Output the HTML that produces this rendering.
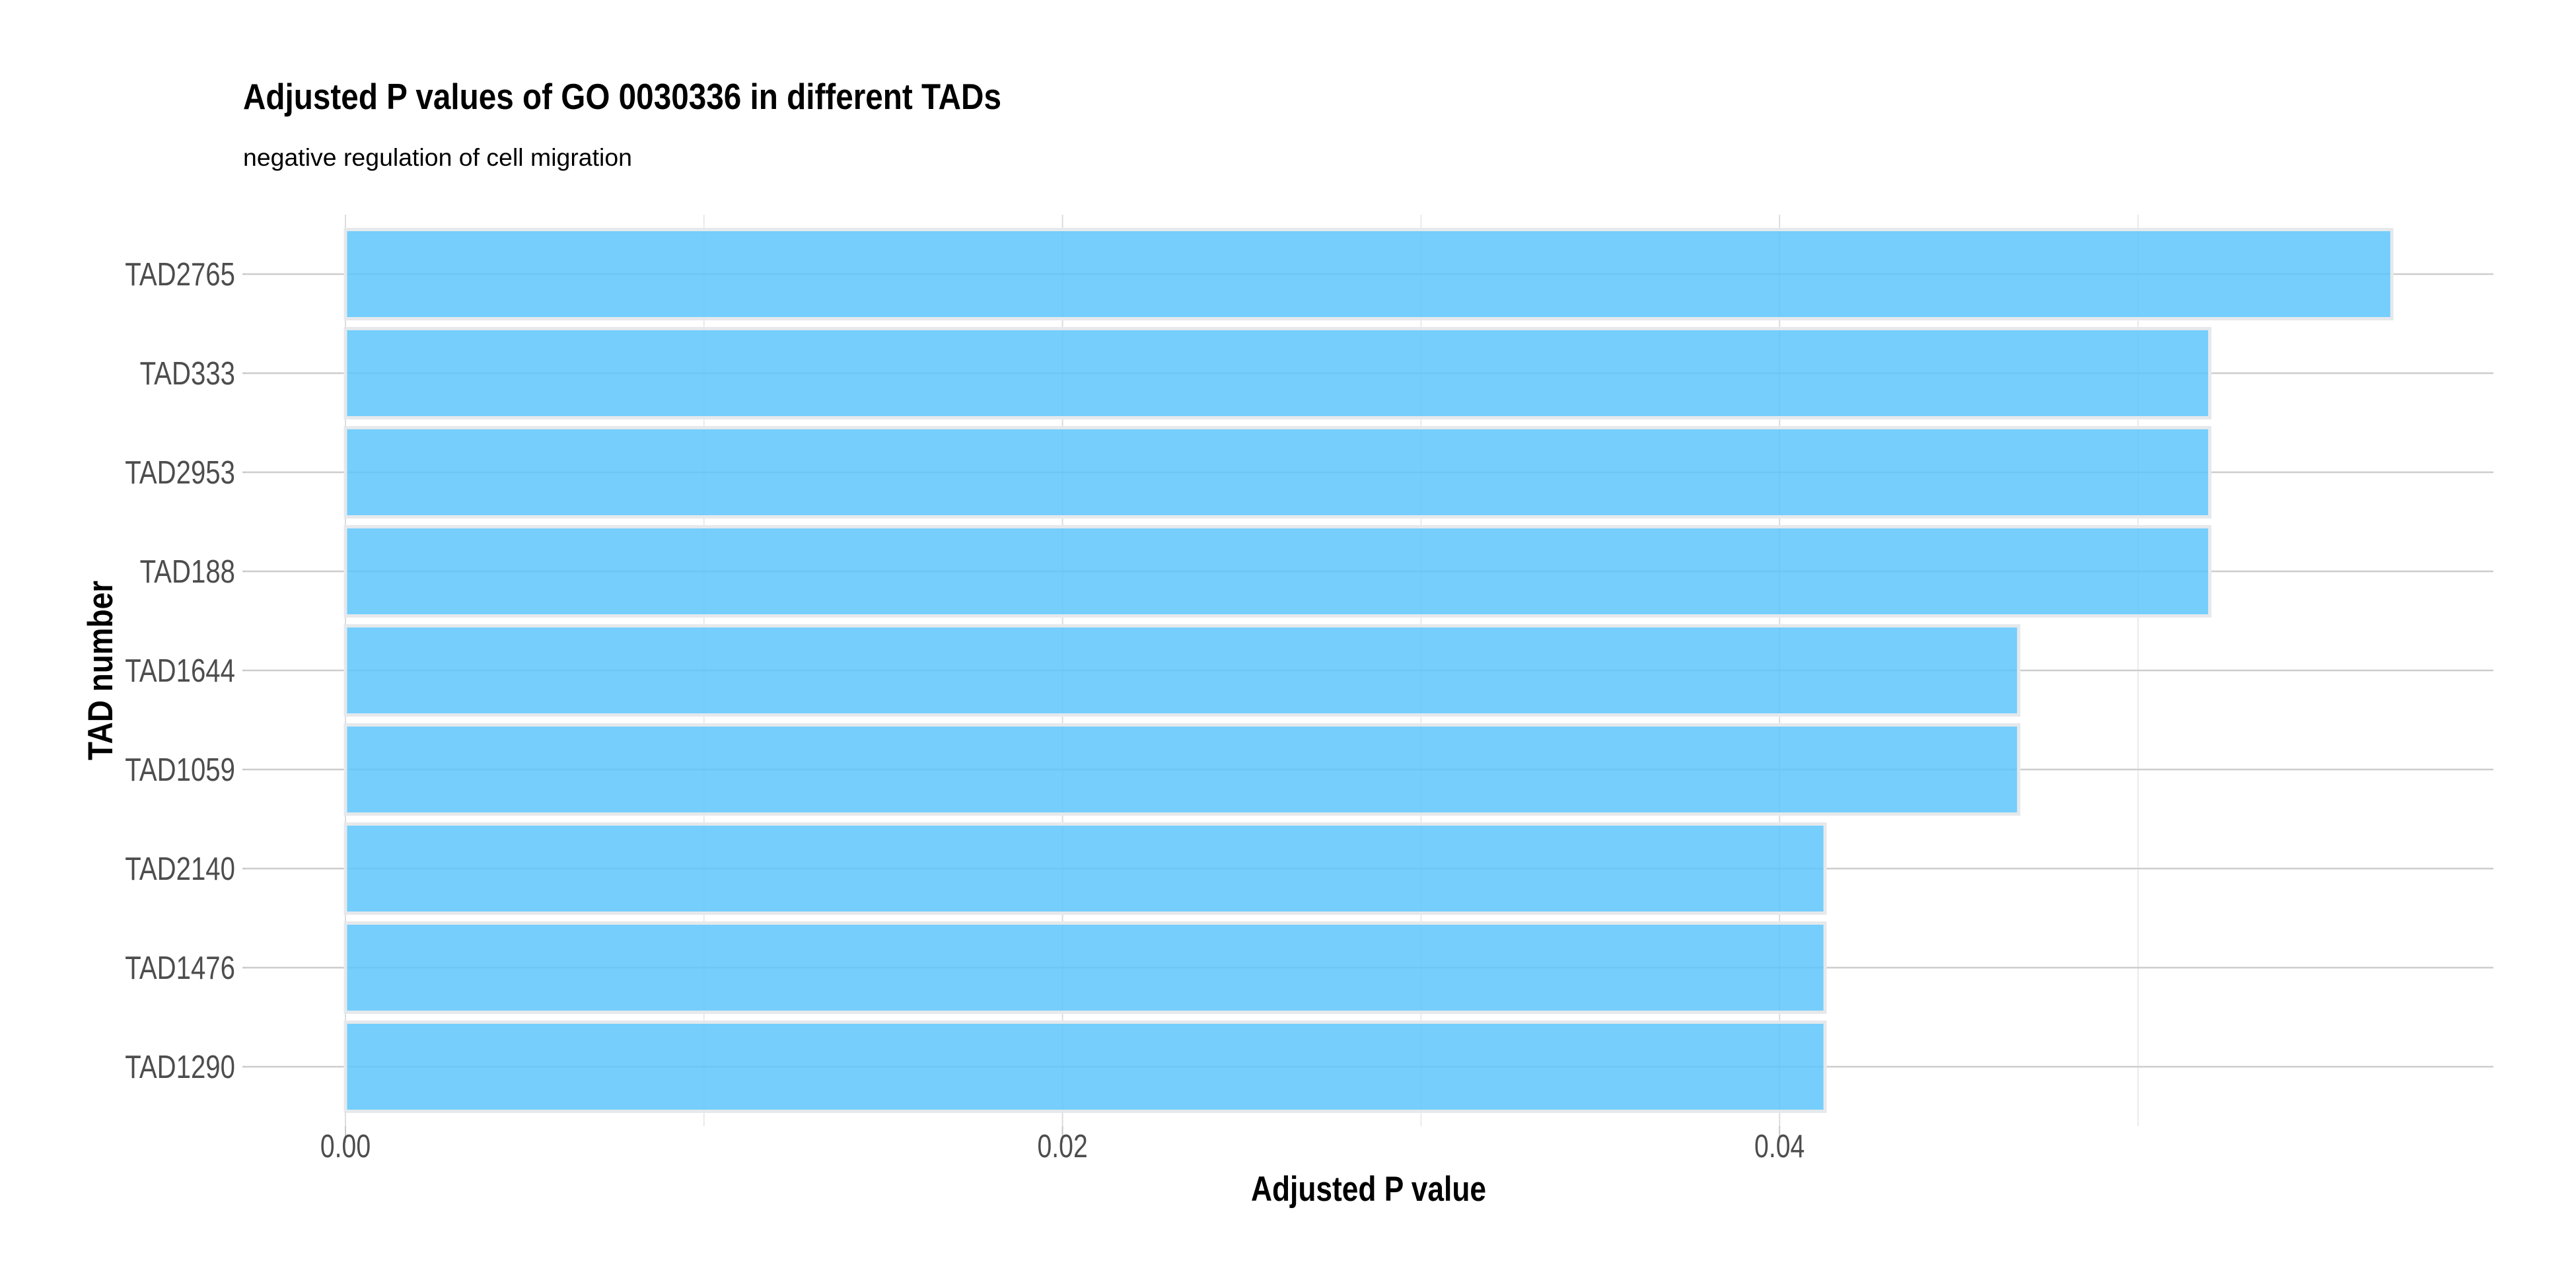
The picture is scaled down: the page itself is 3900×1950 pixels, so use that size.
<!DOCTYPE html>
<html><head><meta charset="utf-8"><style>
html,body{margin:0;padding:0;background:#fff;}
svg{display:block;font-family:"Liberation Sans",sans-serif;}
</style></head><body>
<svg id="chart" width="3900" height="1950" viewBox="0 0 3900 1950" xmlns="http://www.w3.org/2000/svg">
<rect width="3900" height="1950" fill="#fff"/>
<text x="368" y="165" font-size="55" font-weight="bold" fill="#000" textLength="1148" lengthAdjust="spacingAndGlyphs">Adjusted P values of GO 0030336 in different TADs</text>
<text x="368" y="251" font-size="37" fill="#000" textLength="589" lengthAdjust="spacingAndGlyphs">negative regulation of cell migration</text>
<g id="grid"></g>
<g id="bars"></g>
<g id="axes"></g>
<text x="2072" y="1818" font-size="53" font-weight="bold" text-anchor="middle" fill="#000" textLength="356" lengthAdjust="spacingAndGlyphs">Adjusted P value</text>
<text transform="translate(170,1015) rotate(-90)" font-size="53" font-weight="bold" text-anchor="middle" fill="#000" textLength="272" lengthAdjust="spacingAndGlyphs">TAD number</text>
</svg>
<script>
const categories = ["TAD2765","TAD333","TAD2953","TAD188","TAD1644","TAD1059","TAD2140","TAD1476","TAD1290"];
const values = [0.05708,0.0520,0.0520,0.0520,0.04667,0.04667,0.04127,0.04127,0.04127];
const xTicks = [0,0.02,0.04];
const xTickLabels = ["0.00","0.02","0.04"];
const xMinor = [0.01,0.03,0.05];

const NS="http://www.w3.org/2000/svg";
const panelL=367, panelR=3775, panelT=325, panelB=1705;
const x0=523, pxPerUnit=54280;
function xs(v){return x0+v*pxPerUnit;}
const band=(panelB-panelT)/(categories.length+0.2);
function ys(i){return panelT+0.6*band+i*band;}
function mk(tag,attrs,parent){const e=document.createElementNS(NS,tag);for(const k in attrs)e.setAttribute(k,attrs[k]);parent.appendChild(e);return e;}
const grid=document.getElementById('grid'), bars=document.getElementById('bars'), axes=document.getElementById('axes');

xMinor.forEach(v=>{
  const l=mk('line',{x1:xs(v),x2:xs(v),y1:panelT,y2:panelB,stroke:'#e4e4e4','stroke-width':1.5},grid);
  
  
});
xTicks.forEach(v=>{
  const l=mk('line',{x1:xs(v),x2:xs(v),y1:panelT,y2:panelB,stroke:'#dcdcdc','stroke-width':2},grid);
  
  
});
categories.forEach((c,i)=>{
  const l=mk('line',{x1:panelL,x2:panelR,y1:ys(i),y2:ys(i),stroke:'#cdcdcd','stroke-width':2.5},grid);
  
  
});
categories.forEach((c,i)=>{
  const h=band*0.9;
  const r=mk('rect',{x:xs(0),y:ys(i)-h/2,width:xs(values[i])-xs(0),height:h,fill:'#5bc5fc','fill-opacity':0.84,stroke:'#e6e9ec','stroke-width':5},bars);
  
  
});
categories.forEach((c,i)=>{
  const tk=mk('line',{x1:369,x2:panelL+4,y1:ys(i),y2:ys(i),stroke:'#c8c8c8','stroke-width':2.5},axes);
  
  
  const t=mk('text',{transform:`translate(356,${ys(i)+17}) scale(0.82,1)`,'font-size':49,fill:'#4d4d4d','text-anchor':'end'},axes);
  t.textContent=c;
  
  
});
xTicks.forEach((v,i)=>{
  const tk=mk('line',{x1:xs(v),x2:xs(v),y1:panelB,y2:panelB+25,stroke:'#c8c8c8','stroke-width':2},axes);
  
  
  const t=mk('text',{transform:`translate(${xs(v)},1752) scale(0.8,1)`,'font-size':49,fill:'#4d4d4d','text-anchor':'middle'},axes);
  t.textContent=xTickLabels[i];
  
  
});
</script>
</body></html>
